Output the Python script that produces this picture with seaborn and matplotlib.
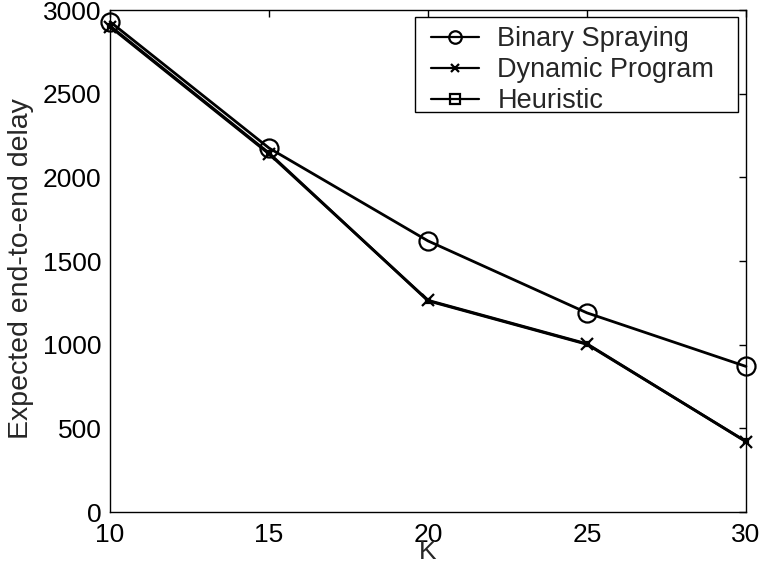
import pandas as pd
import matplotlib.pyplot as plt
import matplotlib.patches as mpatches
import seaborn as sns

# values
k_values = [10, 15, 20, 25, 30]
binary_spraying = [2930, 2175, 1620, 1190, 870]
dynamic_program = [2900, 2140, 1265, 1005, 420]
heuristic = [2905, 2145, 1262, 1002, 422]

sns.set_theme(style="white")
plt.rcParams["font.family"] = ["Liberation Sans", "DejaVu Sans"]

fig = plt.figure(figsize=(7.62, 5.65), dpi=100)
ax = fig.add_axes([0.1444, 0.0938, 0.8346, 0.8885])

series = [
    ("Binary Spraying", binary_spraying, "o", 13),
    ("Dynamic Program", dynamic_program, "x", 9),
    ("Heuristic", heuristic, "s", 3),
]
for name, vals, mk, ms in series:
    df = pd.DataFrame({"K": k_values, "delay": vals})
    sns.lineplot(data=df, x="K", y="delay", ax=ax, color="black", marker=mk,
                 markersize=ms, markerfacecolor="none", markeredgecolor="black",
                 markeredgewidth=1.6, linewidth=2, label=name, clip_on=False)

ax.set_xlim(10, 30)
ax.set_ylim(0, 3000)
ax.set_xticks(k_values)
ax.set_yticks(range(0, 3001, 500))
ax.tick_params(direction="in", top=True, right=True, length=5, width=1,
               labelsize=19, color="black", labelcolor="black")
ax.tick_params(axis="x", pad=8)
ax.tick_params(axis="y", pad=6)
for s in ax.spines.values():
    s.set_color("black")
    s.set_linewidth(1)
ax.set_xlabel("K", fontsize=19)
ax.xaxis.set_label_coords(0.5, -0.055)
ax.set_ylabel("Expected end-to-end delay", fontsize=20.5)
ax.yaxis.set_label_coords(-0.12, 0.485)

# legend without its own frame; the box is drawn separately to get wider side padding
leg = ax.legend(loc="upper left", bbox_to_anchor=(0.562, 0.958),
                bbox_transform=fig.transFigure, fontsize=19.5, frameon=False,
                borderpad=0.1, labelspacing=0.18, handlelength=1.78,
                handletextpad=0.67, borderaxespad=0)
for h, ms in zip(leg.legend_handles, [9, 5.5, 7]):
    h.set_markersize(ms)
    h.set_linewidth(1.6)
leg.set_zorder(6)
box = mpatches.Rectangle((0.5446, 0.8018), 0.4239, 0.1681, transform=fig.transFigure,
                         facecolor="white", edgecolor="black", linewidth=1,
                         zorder=5, clip_on=False)
ax.add_artist(box)

fig.savefig("out.png", dpi=100)
